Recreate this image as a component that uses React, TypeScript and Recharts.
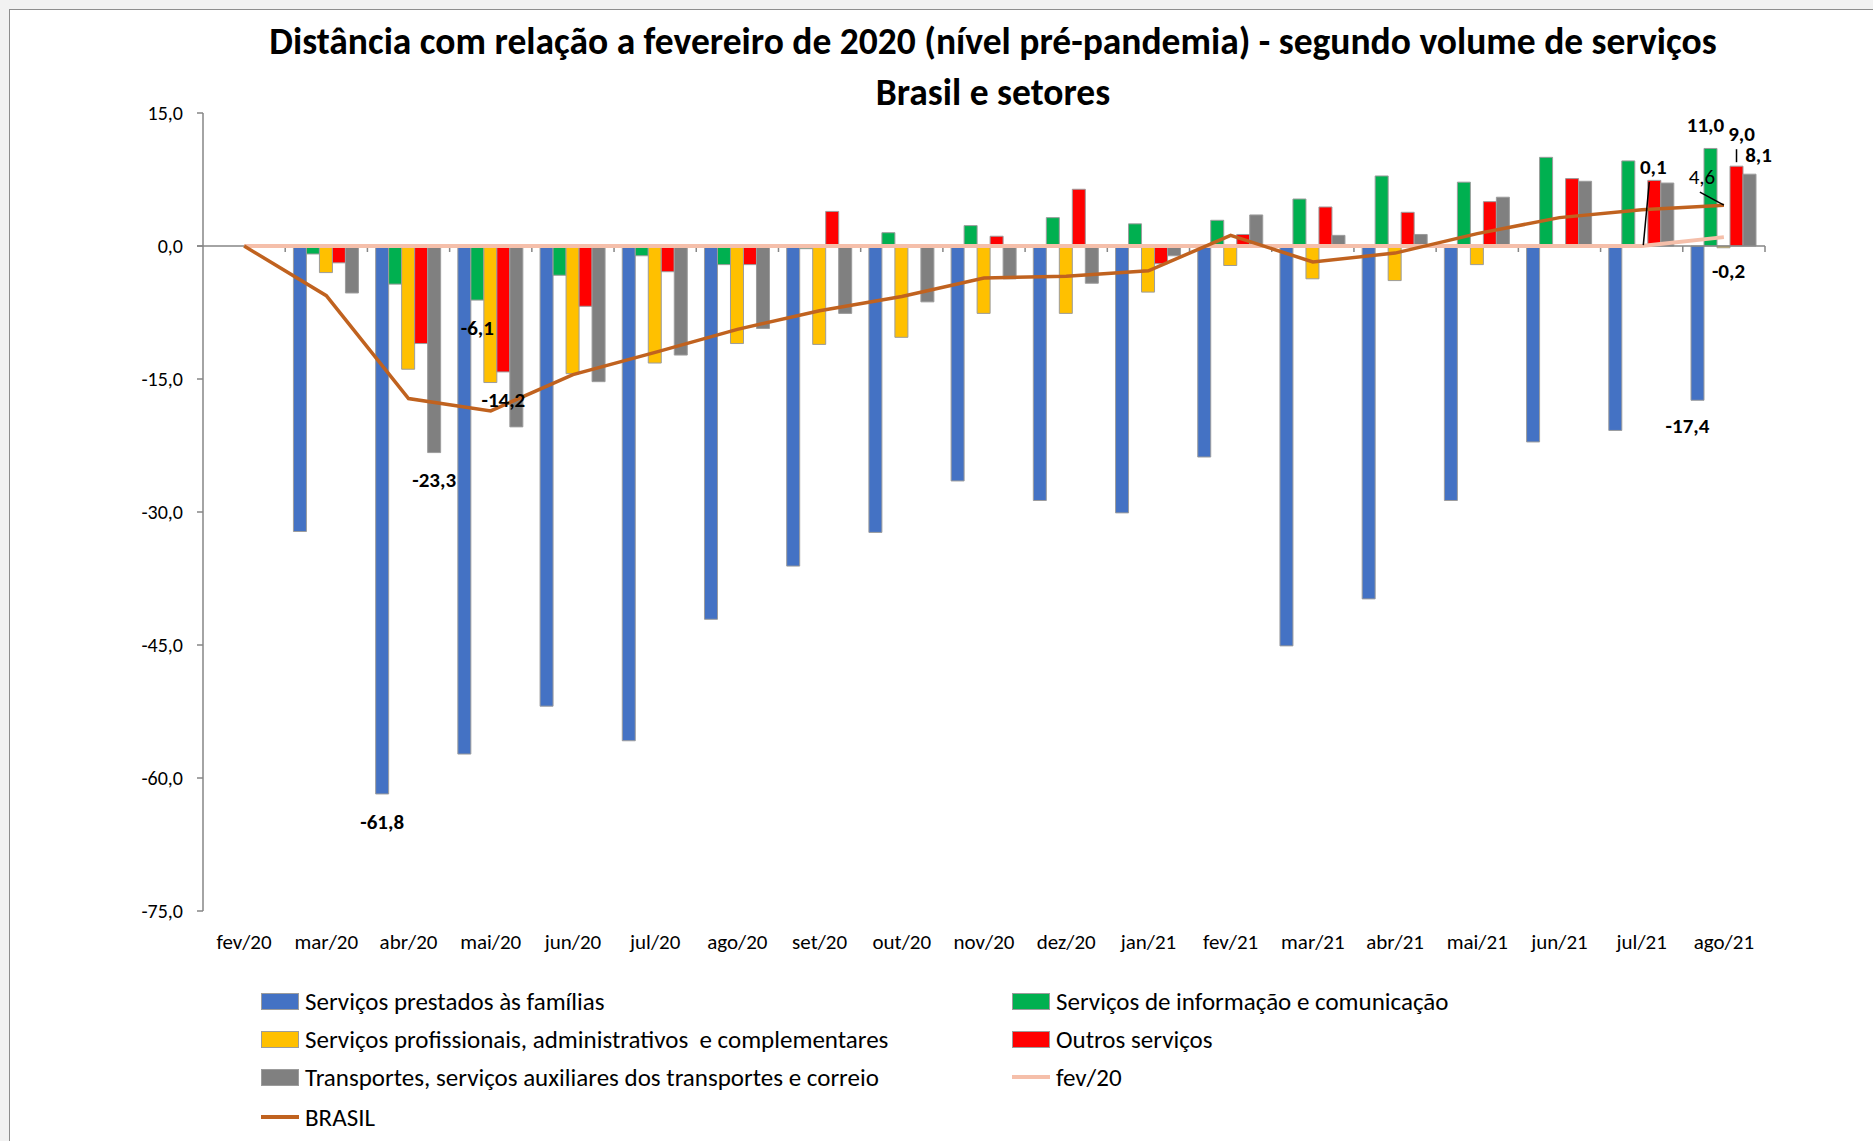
import React from 'react';
import { ComposedChart, Bar, Line, XAxis, YAxis, ReferenceLine, LabelList } from 'recharts';

const FONT = 'Carlito, "Liberation Sans Narrow", "DejaVu Sans Condensed", "Noto Sans", sans-serif';

const months = ['fev/20', 'mar/20', 'abr/20', 'mai/20', 'jun/20', 'jul/20', 'ago/20', 'set/20', 'out/20', 'nov/20',
  'dez/20', 'jan/21', 'fev/21', 'mar/21', 'abr/21', 'mai/21', 'jun/21', 'jul/21', 'ago/21'];

const familias = [0, -32.2, -61.8, -57.3, -51.9, -55.8, -42.1, -36.1, -32.3, -26.5, -28.7, -30.1, -23.8, -45.1, -39.8, -28.7, -22.1, -20.8, -17.4];
const informacao = [0, -0.9, -4.3, -6.1, -3.3, -1.1, -2.1, -0.3, 1.5, 2.3, 3.2, 2.5, 2.9, 5.3, 7.9, 7.2, 10.0, 9.6, 11.0];
const profissionais = [0, -3.0, -13.9, -15.4, -14.4, -13.2, -11.0, -11.1, -10.3, -7.6, -7.6, -5.2, -2.2, -3.7, -3.9, -2.1, -0.1, 0.1, -0.2];
const outros = [0, -1.9, -11.0, -14.2, -6.8, -2.9, -2.1, 3.9, 0.1, 1.1, 6.4, -2.0, 1.3, 4.4, 3.8, 5.0, 7.6, 7.4, 9.0];
const transportes = [0, -5.3, -23.3, -20.4, -15.3, -12.3, -9.3, -7.6, -6.3, -3.7, -4.2, -1.1, 3.5, 1.2, 1.3, 5.5, 7.3, 7.1, 8.1];
const fev20 = [0, 0, 0, 0, 0, 0, 0, 0, 0, 0, 0, 0, 0, 0, 0, 0, 0, 0, 1.0];
const brasil = [0, -5.6, -17.2, -18.6, -14.5, -12.0, -9.4, -7.3, -5.7, -3.6, -3.4, -2.8, 1.2, -1.8, -0.8, 1.4, 3.2, 4.1, 4.6];

const yTicks = [15, 0, -15, -30, -45, -60, -75];

const data = months.map((m, i) => ({
  month: m,
  familias: familias[i],
  informacao: informacao[i],
  profissionais: profissionais[i],
  outros: outros[i],
  transportes: transportes[i],
  fev20: fev20[i],
  brasil: brasil[i],
}));

const COLORS = {
  familias: '#4472C4',
  informacao: '#00B050',
  profissionais: '#FFC000',
  outros: '#FF0000',
  transportes: '#808080',
  fev20: '#F5BFAA',
  brasil: '#C0621F',
};

const legendItems = [
  { key: 'familias', name: 'Serviços prestados às famílias', type: 'bar' },
  { key: 'informacao', name: 'Serviços de informação e comunicação', type: 'bar' },
  { key: 'profissionais', name: 'Serviços profissionais, administrativos  e complementares', type: 'bar' },
  { key: 'outros', name: 'Outros serviços', type: 'bar' },
  { key: 'transportes', name: 'Transportes, serviços auxiliares dos transportes e correio', type: 'bar' },
  { key: 'fev20', name: 'fev/20', type: 'line' },
  { key: 'brasil', name: 'BRASIL', type: 'line' },
];

type Spec = { month: string; dx: number; dy: number; leader?: [number, number, number, number]; regular?: boolean };
const labelSpecs: Record<string, Spec[]> = {
  familias: [{ month: 'abr/20', dx: 0, dy: 28 }, { month: 'ago/21', dx: -10, dy: 26 }],
  transportes: [{ month: 'abr/20', dx: 0, dy: 27 }, { month: 'ago/21', dx: 9, dy: -19 }],
  informacao: [{ month: 'mai/20', dx: 0, dy: 28 }, { month: 'ago/21', dx: -5, dy: -23 }],
  outros: [{ month: 'mai/20', dx: 0, dy: 28 }, { month: 'ago/21', dx: 5, dy: -32, leader: [0, -4, 0, -17] }],
  profissionais: [{ month: 'ago/21', dx: 5, dy: 23 }, { month: 'jul/21', dx: 12, dy: -78, leader: [2, 0, 8, -63] }],
  brasil: [{ month: 'ago/21', dx: -22, dy: -28, leader: [-24, -13, 0, 0], regular: true }],
};

const fmt = (v: number) => v.toFixed(1).replace('.', ',');

const keyed = (k: string) => (d: any) => `${d.month}|${d[k]}`;

const renderLabel = (key: string, cx: number, endY: number, raw: any) => {
  const [month, valStr] = String(raw).split('|');
  const spec = (labelSpecs[key] || []).find((s) => s.month === month);
  if (!spec) return null;
  const value = Number(valStr);
  return (
    <g>
      {spec.leader && (
        <line x1={cx + spec.leader[0]} y1={endY + spec.leader[1]} x2={cx + spec.leader[2]} y2={endY + spec.leader[3]} stroke="#000" strokeWidth={1.5} />
      )}
      <text x={cx + spec.dx} y={endY + spec.dy} textAnchor="middle" dominantBaseline="central" fontFamily={FONT}
        fontWeight={spec.regular ? 400 : 700} fontSize={21} fill="#000">{fmt(value)}</text>
    </g>
  );
};

const makeBarLabel = (key: string) => (props: any) => {
  const { x, y, width, height, value } = props;
  const val = Number(String(value).split('|')[1]);
  const cx = Number(x) + Number(width) / 2;
  const y1 = Number(y);
  const y2 = Number(y) + Number(height);
  const endY = val < 0 ? Math.max(y1, y2) : Math.min(y1, y2);
  return renderLabel(key, cx, endY, value);
};

const makeLineLabel = (key: string) => (props: any) => {
  const { x, y, value } = props;
  return renderLabel(key, Number(x), Number(y), value);
};

const ZeroAxis = (props: any) => {
  const { x1, y1, x2 } = props;
  const n = months.length;
  const step = (Number(x2) - Number(x1)) / n;
  const ticks = [];
  for (let k = 1; k <= n; k++) {
    const tx = Number(x1) + step * k;
    ticks.push(<line key={k} x1={tx} y1={y1} x2={tx} y2={Number(y1) + 6} stroke="#868686" strokeWidth={1.5} />);
  }
  return (
    <g>
      <line x1={Number(x1) - 6} y1={y1} x2={x2} y2={y1} stroke="#868686" strokeWidth={1.5} />
      {ticks}
    </g>
  );
};

const XTick = (props: any) => {
  const { x, y, payload } = props;
  return (
    <text x={x} y={Number(y) + 31} textAnchor="middle" dominantBaseline="central" fontFamily={FONT} fontSize={21} fill="#000">
      {payload.value}
    </text>
  );
};

const barKeys = ['familias', 'informacao', 'profissionais', 'outros', 'transportes'] as const;

export default function App() {
  const rowY = [1001, 1039, 1077, 1117];
  const colX = [261, 1012];
  return (
    <div style={{ position: 'absolute', left: 0, top: 0, width: 1873, height: 1141, overflow: 'hidden', background: '#f2f2f2' }}>
      <div style={{ position: 'absolute', left: 9, top: 9, width: 1900, height: 1200, background: '#fff', border: '1px solid #8e8e8e' }} />
      <div style={{ position: 'absolute', left: 93, top: 16, width: 1800, textAlign: 'center', fontFamily: FONT, fontWeight: 700, fontSize: 37.5, lineHeight: '51px', color: '#000' }}>
        <div>Distância com relação a fevereiro de 2020 (nível pré-pandemia) - segundo volume de serviços</div>
        <div>Brasil e setores</div>
      </div>
      <div style={{ position: 'absolute', left: 0, top: 0 }}>
        <ComposedChart width={1873} height={1141} data={data} margin={{ top: 113, right: 108, bottom: 170, left: 143 }}
          barCategoryGap="10%" barGap={0}>
          <XAxis dataKey="month" axisLine={false} tickLine={false} tickSize={0} tickMargin={0} interval={0} height={60} tick={<XTick />} />
          <YAxis domain={[-75, 15]} ticks={yTicks} interval={0} width={60} tickFormatter={fmt}
            axisLine={{ stroke: '#868686', strokeWidth: 1.5 }} tickLine={{ stroke: '#868686', strokeWidth: 1.5 }}
            tickSize={6} tickMargin={14} tick={{ fontFamily: FONT, fontSize: 20, fill: '#000' }} />
          <ReferenceLine y={0} shape={(p: any) => <ZeroAxis {...p} />} />
          {barKeys.map((k) => (
            <Bar key={k} dataKey={k} fill={COLORS[k]} stroke="#9c9c9c" strokeWidth={1} isAnimationActive={false}>
              <LabelList dataKey={keyed(k)} content={makeBarLabel(k)} />
            </Bar>
          ))}
          <Line dataKey="fev20" stroke={COLORS.fev20} strokeWidth={4} dot={false} isAnimationActive={false} />
          <Line dataKey="brasil" stroke={COLORS.brasil} strokeWidth={3.5} dot={false} isAnimationActive={false}>
            <LabelList dataKey={keyed('brasil')} content={makeLineLabel('brasil')} />
          </Line>
        </ComposedChart>
      </div>
      {legendItems.map((it, i) => {
        const c = COLORS[it.key as keyof typeof COLORS];
        return (
          <div key={it.key} style={{ position: 'absolute', left: colX[i % 2], top: rowY[Math.floor(i / 2)] - 19, height: 38, display: 'flex', alignItems: 'center', fontFamily: FONT, fontSize: 25, color: '#000', whiteSpace: 'pre' }}>
            {it.type === 'bar' ? (
              <div style={{ width: 36, height: 15, background: c, border: '1px solid #9c9c9c', marginRight: 6 }} />
            ) : (
              <div style={{ width: 38, height: 4, background: c, marginRight: 6 }} />
            )}
            <span>{it.name}</span>
          </div>
        );
      })}
    </div>
  );
}
